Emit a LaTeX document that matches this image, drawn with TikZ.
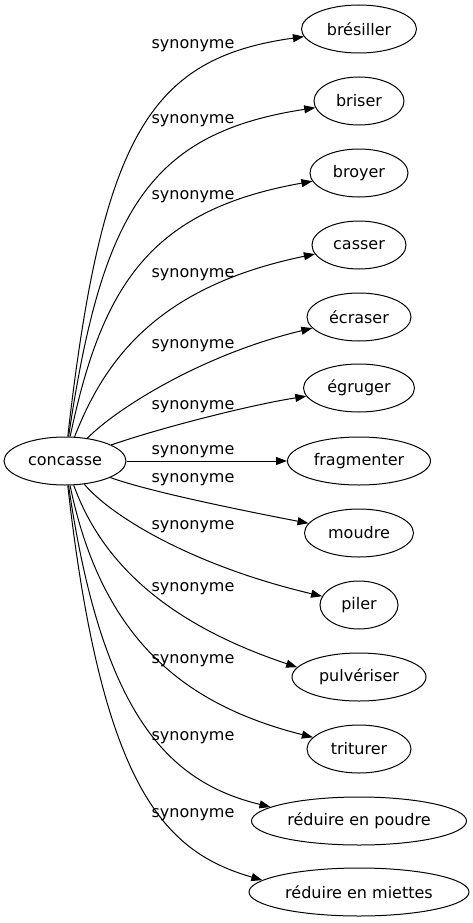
\documentclass[tikz,border=0pt]{standalone}
\usepackage{fontspec}
\setmainfont{DejaVu Sans}
\usetikzlibrary{arrows.meta,shapes.geometric}

\begin{document}
\begin{tikzpicture}[x=1pt,y=-1pt,
		wordnode/.style={draw,ellipse,line width=1pt,inner sep=0pt,minimum height=48pt,font=\fontsize{16}{19}\selectfont},
		synlabel/.style={inner sep=0pt,font=\fontsize{16}{19}\selectfont},
		synedge/.style={line width=1pt,-{Triangle[length=11pt,width=8pt]}}]
		\useasboundingbox (0,0) rectangle (472,923);

		\node[wordnode,minimum width=122pt]		(0)		at (65,461)		{concasse};
		\node[wordnode,minimum width=115pt]		(1)		at (359,29)		{brésiller};
		\node[wordnode,minimum width=90pt]		(2)		at (359,101)	{briser};
		\node[wordnode,minimum width=98pt]		(3)		at (359,173)	{broyer};
		\node[wordnode,minimum width=94pt]		(4)		at (359,245)	{casser};
		\node[wordnode,minimum width=104pt]		(5)		at (359,317)	{écraser};
		\node[wordnode,minimum width=111pt]		(6)		at (359,388)	{égruger};
		\node[wordnode,minimum width=143pt]		(7)		at (359,461)	{fragmenter};
		\node[wordnode,minimum width=109pt]		(8)		at (359,533)	{moudre};
		\node[wordnode,minimum width=78pt]		(9)		at (359,605)	{piler};
		\node[wordnode,minimum width=134pt]		(10)	at (359,677)	{pulvériser};
		\node[wordnode,minimum width=104pt]		(11)	at (359,749)	{triturer};
		\node[wordnode,minimum width=215pt]		(12)	at (359,821)	{réduire en poudre};
		\node[wordnode,minimum width=220pt]		(13)	at (359,892)	{réduire en miettes};

		\node[synlabel]	(l1)	at (193,46)		{synonyme};
		\node[synlabel]	(l2)	at (193,121)	{synonyme};
		\node[synlabel]	(l3)	at (193,197)	{synonyme};
		\node[synlabel]	(l4)	at (193,275)	{synonyme};
		\node[synlabel]	(l5)	at (193,346)	{synonyme};
		\node[synlabel]	(l6)	at (193,407)	{synonyme};
		\node[synlabel]	(l7)	at (193,452)	{synonyme};
		\node[synlabel]	(l8)	at (193,480)	{synonyme};
		\node[synlabel]	(l9)	at (193,527)	{synonyme};
		\node[synlabel]	(l10)	at (193,589)	{synonyme};
		\node[synlabel]	(l11)	at (193,661)	{synonyme};
		\node[synlabel]	(l12)	at (193,738)	{synonyme};
		\node[synlabel]	(l13)	at (193,815)	{synonyme};

		\draw[synedge] (0) .. controls (102,135) and (150,58) .. (1);
		\draw[synedge] (0) .. controls (102,210) and (150,133) .. (2);
		\draw[synedge] (0) .. controls (102,285) and (150,210) .. (3);
		\draw[synedge] (0) .. controls (104,362) and (155,287) .. (4);
		\draw[synedge] (0) .. controls (115,410) and (200,355) .. (5);
		\draw[synedge] (0) .. controls (160,428) and (250,405) .. (6);
		\draw[synedge] (0) -- (7);
		\draw[synedge] (0) .. controls (150,492) and (250,512) .. (8);
		\draw[synedge] (0) .. controls (110,515) and (190,565) .. (9);
		\draw[synedge] (0) .. controls (105,572) and (180,628) .. (10.171);
		\draw[synedge] (0) .. controls (102,640) and (185,705) .. (11);
		\draw[synedge] (0) .. controls (102,715) and (168,782) .. (12.171);
		\draw[synedge] (0) .. controls (102,790) and (165,852) .. (13.173);
	\end{tikzpicture}
\end{document}
